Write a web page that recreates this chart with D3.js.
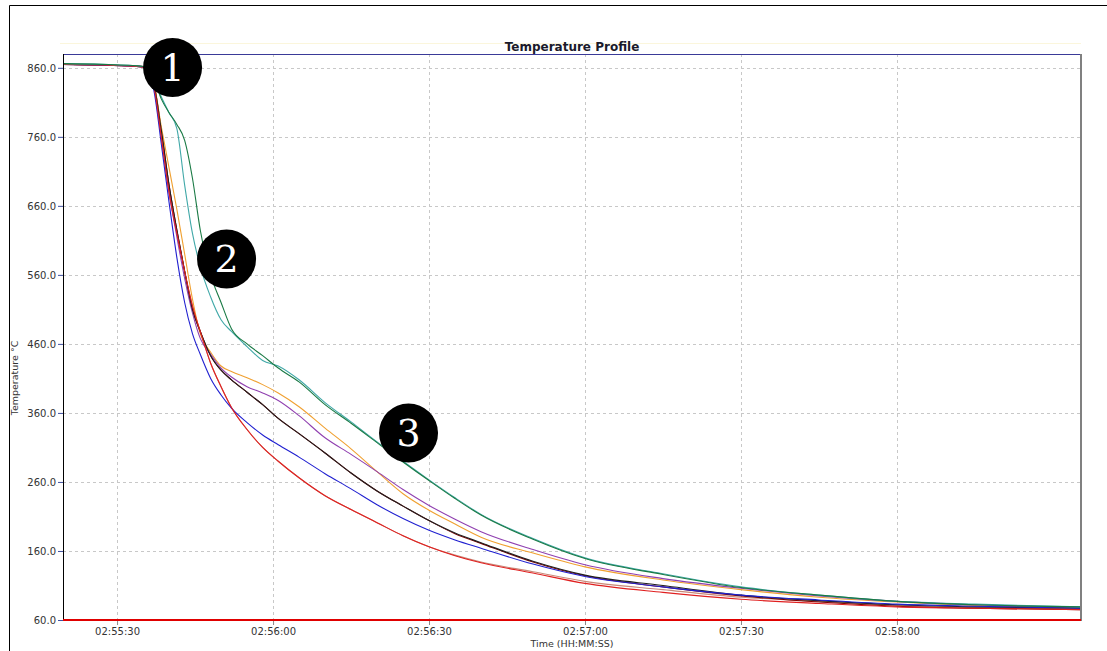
<!DOCTYPE html>
<html><head><meta charset="utf-8">
<script src="https://cdn.jsdelivr.net/npm/d3@7"></script>
<style>body{margin:0;background:#fff}svg{display:block}</style>
</head><body>
<svg id="chart" width="1107" height="651"></svg>
<script>
// time in seconds after 02:55:00
const timeSec = [19.6, 27, 35, 37, 38.5, 40, 41.5, 43, 44.5, 46, 48, 50, 52, 55, 58, 61, 65, 70, 75, 80, 85, 90, 95, 100, 110, 120, 135, 150, 165, 180, 195, 215.4];
const tRed    = [865,864,861,835,760,680,620,565,515,478,432,398,368,336,310,290,266,240,220,201,182,166,153,143,128,113,100,90,84,79,77,75];
const tRosy   = [865,864,861,835,760,680,620,565,515,478,432,398,368,336,310,290,266,240,220,201,182,166,154,144,130,116,104,93,87,81,78,76];
const tBlue   = [865,864,861,830,750,665,585,520,475,445,410,386,367,346,328,314,296,272,250,227,207,190,176,164,141,123,108,96,89,83,80,77];
const tBlack  = [865,864,862,838,770,690,625,565,510,478,443,422,408,390,372,352,330,302,273,247,225,204,186,172,145,125,110,96,88,82,79,77];
const tMaroon = [865,864,862,838,770,690,625,565,510,478,443,422,408,390,372,352,330,302,273,247,225,204,185,171,144,124,108,95,86,80,77,75];
const tPurple = [865,864,862,835,760,680,615,555,505,468,445,425,412,398,389,378,356,324,300,275,249,226,206,188,162,140,120,106,95,87,82,78];
const tOrange = [865,864,862,840,775,715,655,590,525,475,448,428,420,411,401,389,369,338,308,275,243,219,199,180,157,137,118,104,93,86,81,78];
const tTeal   = [866,865,862,845,818,795,772,690,620,572,528,495,478,456,436,428,408,375,347,318,290,263,237,213,178,150,127,108,96,87,83,79];
const tGreen  = [866,865,862,845,815,795,778,755,700,625,560,520,482,460,443,425,405,372,345,317,289,262,236,212,177,149,126,107,96,87,82,79];

const seriesNames  = ["rosy","maroon","orange","purple","black","blue","red","teal","green"];
const seriesValues = [tRosy, tMaroon, tOrange, tPurple, tBlack, tBlue, tRed, tTeal, tGreen];
const seriesColors = ["#c98878","#800000","#f0a030","#9040b0","#202020","#2020d0","#e02020","#40a8a8","#1a7a45"];

const xTickSec    = [30, 60, 90, 120, 150, 180];
const xTickLabels = ["02:55:30","02:56:00","02:56:30","02:57:00","02:57:30","02:58:00"];
const yTicks = [60,160,260,360,460,560,660,760,860];

const markerLabels = ["1","2","3"];
const markerSec  = [30 + (172.5-117)/5.2, 30 + (226.5-117)/5.2, 30 + (408.5-117)/5.2];
const markerTemp = [860.5, 583, 331];

const svg = d3.select("#chart");
const L = 63, R = 1081, T = 54, B = 620;
const x = d3.scaleLinear().domain([19.6, 215.4]).range([L, R]);
const y = d3.scaleLinear().domain([60, 880]).range([B, T]);

// outer frame
svg.append("line").attr("x1",9.5).attr("x2",1107).attr("y1",5.5).attr("y2",5.5).attr("stroke","#000");
svg.append("line").attr("x1",9.5).attr("x2",9.5).attr("y1",5.5).attr("y2",651).attr("stroke","#000");
// faint line above plot
svg.append("line").attr("x1",60).attr("x2",R).attr("y1",43.5).attr("y2",43.5).attr("stroke","#fbf6dc");

// title
svg.append("text").attr("x",(L+R)/2).attr("y",51).attr("text-anchor","middle")
  .attr("font-family","DejaVu Sans, sans-serif").attr("font-weight","bold").attr("font-size",12)
  .attr("fill","#1a1a2a").text("Temperature Profile");

// grid
const g = svg.append("g");
g.selectAll("line.gy").data(yTicks.filter(d=>d>60)).join("line")
  .attr("x1",L).attr("x2",R).attr("y1",d=>Math.round(y(d))+0.5).attr("y2",d=>Math.round(y(d))+0.5)
  .attr("stroke","#c8c8c8").attr("stroke-dasharray","3,3");
g.selectAll("line.gx").data(xTickSec).join("line")
  .attr("y1",T).attr("y2",B).attr("x1",d=>Math.round(x(d))+0.5).attr("x2",d=>Math.round(x(d))+0.5)
  .attr("stroke","#c8c8c8").attr("stroke-dasharray","3,3");

// axes
const yAxis = svg.append("g").attr("transform",`translate(${L},0)`)
  .call(d3.axisLeft(y).tickValues(yTicks).tickFormat(d=>d.toFixed(1)).tickSize(5).tickPadding(2));
yAxis.select(".domain").remove();
yAxis.selectAll(".tick line").attr("stroke","#4050a0");
yAxis.selectAll("text").attr("font-family","DejaVu Sans, sans-serif").attr("font-size",10).attr("fill","#333");

const xAxis = svg.append("g").attr("transform",`translate(0,${B})`)
  .call(d3.axisBottom(x).tickValues(xTickSec).tickFormat((d,i)=>xTickLabels[i]).tickSize(5).tickPadding(3));
xAxis.select(".domain").remove();
xAxis.selectAll(".tick line").attr("stroke","#888");
xAxis.selectAll("text").attr("font-family","DejaVu Sans, sans-serif").attr("font-size",10).attr("fill","#333");

// axis titles
svg.append("text").attr("x",(L+R)/2).attr("y",647).attr("text-anchor","middle")
  .attr("font-family","DejaVu Sans, sans-serif").attr("font-size",9.5).attr("fill","#333").text("Time (HH:MM:SS)");
svg.append("text").attr("transform","translate(18,378) rotate(-90)").attr("text-anchor","middle")
  .attr("font-family","DejaVu Sans, sans-serif").attr("font-size",9.5).attr("fill","#333").text("Temperature °C");

// series
const line = d3.line().x((d,i)=>x(timeSec[i])).y(d=>y(d)).curve(d3.curveMonotoneX);
svg.append("g").selectAll("path").data(seriesValues).join("path")
  .attr("d",d=>line(d)).attr("fill","none").attr("stroke",(d,i)=>seriesColors[i]).attr("stroke-width",1.1);

// plot frame
svg.append("line").attr("x1",L).attr("x2",R).attr("y1",T+0.5).attr("y2",T+0.5).attr("stroke","#3a3a98");
svg.append("line").attr("x1",L+0.5).attr("x2",L+0.5).attr("y1",T).attr("y2",B).attr("stroke","#000");
svg.append("line").attr("x1",R).attr("x2",R).attr("y1",T).attr("y2",B+1).attr("stroke","#808080").attr("stroke-width",2);
svg.append("line").attr("x1",L).attr("x2",R).attr("y1",B).attr("y2",B).attr("stroke","#e00000").attr("stroke-width",2);

// markers
const mk = svg.append("g").selectAll("g").data(markerLabels).join("g")
  .attr("transform",(d,i)=>`translate(${x(markerSec[i])},${y(markerTemp[i])})`);
mk.append("circle").attr("r",29.5).attr("fill","#000");
mk.append("text").attr("text-anchor","middle").attr("dy","0.35em")
  .attr("font-family","DejaVu Serif, serif").attr("font-size",38).attr("fill","#fff").text(d=>d);
</script>
</body></html>
